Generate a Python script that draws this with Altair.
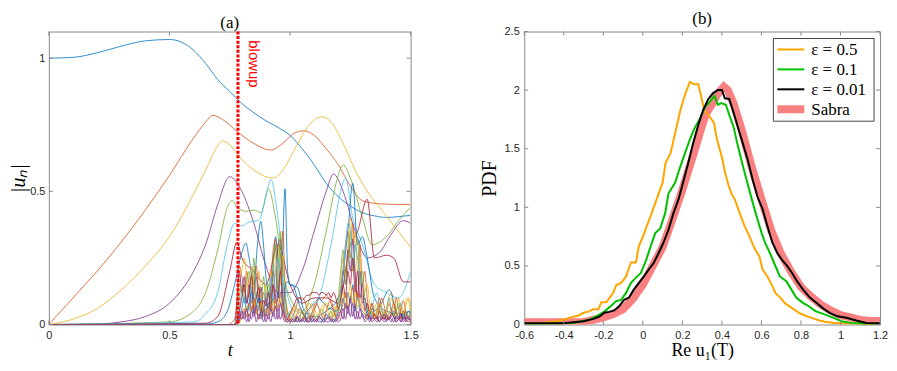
import altair as alt
import pandas as pd

# ---------------- Panel (a): |u_n| versus t ----------------
U01_T = [0, 0.1, 0.2, 0.3, 0.4, 0.5, 0.55, 0.6, 0.65, 0.7, 0.75, 0.8, 0.85, 0.9, 0.95, 1.0, 1.05, 1.1, 1.15, 1.2, 1.25, 1.3, 1.35, 1.4, 1.45, 1.5]
U01 = [1.0, 1.003, 1.02, 1.045, 1.065, 1.07, 1.06, 1.03, 0.98, 0.92, 0.875, 0.83, 0.795, 0.765, 0.74, 0.71, 0.66, 0.6, 0.53, 0.48, 0.445, 0.42, 0.408, 0.402, 0.405, 0.41]

U02_T = [0, 0.05, 0.1, 0.15, 0.2, 0.3, 0.4, 0.5, 0.6, 0.65, 0.68, 0.72, 0.78, 0.85, 0.92, 0.97, 1.02, 1.06, 1.1, 1.15, 1.2, 1.25, 1.3, 1.35, 1.4, 1.5]
U02 = [0, 0.05, 0.1, 0.15, 0.2, 0.31, 0.43, 0.56, 0.7, 0.76, 0.785, 0.77, 0.725, 0.68, 0.655, 0.68, 0.72, 0.727, 0.71, 0.66, 0.6, 0.52, 0.465, 0.455, 0.452, 0.45]

U03_T = [0, 0.1, 0.2, 0.3, 0.4, 0.5, 0.6, 0.65, 0.7, 0.72, 0.75, 0.8, 0.85, 0.9, 0.93, 0.97, 1.02, 1.08, 1.13, 1.17, 1.22, 1.27, 1.32, 1.38, 1.44, 1.5]
U03 = [0, 0.02, 0.06, 0.13, 0.22, 0.33, 0.49, 0.58, 0.67, 0.69, 0.675, 0.62, 0.58, 0.555, 0.55, 0.58, 0.66, 0.75, 0.78, 0.76, 0.68, 0.58, 0.5, 0.43, 0.36, 0.29]

U04_T = [0, 0.2, 0.3, 0.4, 0.5, 0.6, 0.65, 0.7, 0.75, 0.8, 0.85, 0.9, 0.95, 1.0, 1.05, 1.1, 1.15, 1.18, 1.22, 1.27, 1.32, 1.37, 1.42, 1.47, 1.5]
U04 = [0, 0.002, 0.01, 0.03, 0.08, 0.2, 0.3, 0.45, 0.555, 0.5, 0.38, 0.22, 0.12, 0.12, 0.2, 0.35, 0.5, 0.565, 0.5, 0.35, 0.25, 0.27, 0.34, 0.39, 0.38]

U05_T = [0, 0.5, 0.6, 0.65, 0.7, 0.74, 0.76, 0.78, 0.82, 0.85, 0.88, 0.91, 0.94, 0.97, 1.0, 1.05, 1.1, 1.15, 1.2, 1.22, 1.25, 1.3, 1.34, 1.4, 1.45, 1.5]
U05 = [0, 0.01, 0.05, 0.12, 0.28, 0.44, 0.465, 0.44, 0.425, 0.43, 0.42, 0.51, 0.4, 0.2, 0.1, 0.05, 0.15, 0.35, 0.56, 0.6, 0.55, 0.4, 0.3, 0.33, 0.39, 0.44]

U06_T = [0, 0.6, 0.65, 0.7, 0.74, 0.77, 0.8, 0.83, 0.87, 0.9, 0.92, 0.95, 0.98, 1.02, 1.08, 1.12, 1.17, 1.21, 1.23, 1.26, 1.3, 1.35, 1.4, 1.45, 1.5]
U06 = [0, 0.01, 0.04, 0.12, 0.3, 0.38, 0.37, 0.385, 0.39, 0.48, 0.545, 0.4, 0.15, 0.05, 0.04, 0.1, 0.3, 0.5, 0.55, 0.4, 0.3, 0.15, 0.12, 0.1, 0.2]

U07_T = [0, 0.65, 0.7, 0.75, 0.78, 0.8, 0.85, 0.9, 0.95, 1.0, 1.05, 1.1, 1.15, 1.2, 1.25, 1.28, 1.32, 1.35, 1.4, 1.43, 1.47, 1.5]
U07 = [0, 0.005, 0.03, 0.2, 0.31, 0.25, 0.2, 0.15, 0.3, 0.15, 0.08, 0.1, 0.1, 0.08, 0.3, 0.35, 0.47, 0.25, 0.26, 0.25, 0.16, 0.16]

U08_T = [0, 0.65, 0.7, 0.74, 0.77, 0.8, 0.817, 0.83, 0.85, 0.865, 0.879, 0.89, 0.9, 0.92, 0.94, 0.95, 0.965, 0.979, 0.99, 1.0, 1.03, 1.06, 1.1, 1.15, 1.2, 1.24, 1.26, 1.28, 1.3, 1.32, 1.35, 1.4, 1.45, 1.5]
U08 = [0, 0.002, 0.01, 0.05, 0.15, 0.27, 0.306, 0.25, 0.15, 0.3, 0.387, 0.3, 0.18, 0.1, 0.33, 0.25, 0.2, 0.51, 0.2, 0.15, 0.14, 0.05, 0.03, 0.05, 0.1, 0.35, 0.53, 0.3, 0.33, 0.25, 0.1, 0.05, 0.04, 0.05]

# high shells: fast fluctuations after the blowup time
NOISE_T = [0, 0.74,
           0.77, 0.78, 0.79, 0.80,
           0.81, 0.82, 0.83, 0.84, 0.85, 0.86, 0.87, 0.88, 0.89, 0.90,
           0.91, 0.92, 0.93, 0.94, 0.95, 0.96, 0.97, 0.98, 0.99, 1.00,
           1.01, 1.02, 1.03, 1.04, 1.05, 1.06, 1.07, 1.08, 1.09, 1.10,
           1.11, 1.12, 1.13, 1.14, 1.15, 1.16, 1.17, 1.18, 1.19, 1.20,
           1.21, 1.22, 1.23, 1.24, 1.25, 1.26, 1.27, 1.28, 1.29, 1.30,
           1.31, 1.32, 1.33, 1.34, 1.35, 1.36, 1.37, 1.38, 1.39, 1.40,
           1.41, 1.42, 1.43, 1.44, 1.45, 1.46, 1.47, 1.48, 1.49, 1.50]
U09 = [0, 0,
       0.02, 0.1, 0.22, 0.18,
       0.12, 0.2, 0.15, 0.08, 0.18, 0.22, 0.1, 0.05, 0.12, 0.08,
       0.05, 0.15, 0.28, 0.32, 0.1, 0.2, 0.35, 0.12, 0.04, 0.02,
       0.03, 0.05, 0.08, 0.1, 0.1, 0.09, 0.06, 0.03, 0.02, 0.05,
       0.08, 0.1, 0.09, 0.1, 0.11, 0.1, 0.08, 0.05, 0.03, 0.05,
       0.1, 0.2, 0.3, 0.35, 0.25, 0.38, 0.2, 0.1, 0.3, 0.15,
       0.2, 0.1, 0.05, 0.08, 0.03, 0.05, 0.1, 0.06, 0.02, 0.04,
       0.08, 0.05, 0.03, 0.1, 0.06, 0.02, 0.05, 0.04, 0.02, 0.03]
U10 = [0, 0,
       0.0, 0.05, 0.15, 0.2,
       0.25, 0.18, 0.1, 0.22, 0.15, 0.05, 0.2, 0.12, 0.06, 0.15,
       0.1, 0.2, 0.12, 0.25, 0.3, 0.15, 0.26, 0.08, 0.03, 0.04,
       0.06, 0.04, 0.02, 0.03, 0.05, 0.04, 0.02, 0.05, 0.08, 0.06,
       0.04, 0.02, 0.03, 0.06, 0.08, 0.07, 0.04, 0.02, 0.04, 0.08,
       0.15, 0.25, 0.18, 0.3, 0.4, 0.3, 0.35, 0.2, 0.25, 0.1,
       0.12, 0.15, 0.08, 0.04, 0.06, 0.08, 0.05, 0.02, 0.04, 0.06,
       0.1, 0.12, 0.08, 0.05, 0.1, 0.06, 0.02, 0.07, 0.1, 0.03]
U11 = [0, 0,
       0.0, 0.08, 0.2, 0.12,
       0.18, 0.08, 0.15, 0.05, 0.12, 0.18, 0.08, 0.14, 0.05, 0.1,
       0.06, 0.12, 0.2, 0.1, 0.3, 0.32, 0.1, 0.05, 0.02, 0.01,
       0.02, 0.01, 0.03, 0.01, 0.02, 0.04, 0.02, 0.01, 0.03, 0.02,
       0.01, 0.03, 0.02, 0.01, 0.04, 0.02, 0.03, 0.01, 0.02, 0.05,
       0.1, 0.2, 0.15, 0.28, 0.2, 0.32, 0.18, 0.1, 0.2, 0.08,
       0.1, 0.05, 0.02, 0.04, 0.02, 0.03, 0.01, 0.03, 0.02, 0.04,
       0.02, 0.03, 0.05, 0.02, 0.03, 0.01, 0.04, 0.02, 0.03, 0.02]
U12 = [0, 0,
       0.0, 0.03, 0.1, 0.15,
       0.1, 0.16, 0.2, 0.12, 0.25, 0.1, 0.15, 0.06, 0.18, 0.1,
       0.15, 0.08, 0.22, 0.3, 0.12, 0.35, 0.15, 0.1, 0.05, 0.03,
       0.02, 0.03, 0.01, 0.02, 0.05, 0.02, 0.01, 0.02, 0.04, 0.03,
       0.02, 0.04, 0.06, 0.04, 0.02, 0.03, 0.05, 0.03, 0.06, 0.1,
       0.2, 0.28, 0.15, 0.22, 0.35, 0.2, 0.28, 0.32, 0.15, 0.2,
       0.1, 0.06, 0.03, 0.05, 0.02, 0.04, 0.06, 0.03, 0.05, 0.02,
       0.04, 0.06, 0.03, 0.05, 0.08, 0.04, 0.02, 0.05, 0.03, 0.06]
U13 = [0, 0,
       0.0, 0.02, 0.06, 0.12,
       0.08, 0.1, 0.05, 0.14, 0.08, 0.12, 0.05, 0.1, 0.06, 0.12,
       0.08, 0.18, 0.1, 0.2, 0.25, 0.1, 0.18, 0.05, 0.03, 0.05,
       0.04, 0.02, 0.01, 0.03, 0.02, 0.01, 0.03, 0.02, 0.01, 0.02,
       0.03, 0.02, 0.01, 0.03, 0.02, 0.04, 0.02, 0.01, 0.03, 0.06,
       0.12, 0.2, 0.3, 0.38, 0.36, 0.22, 0.3, 0.25, 0.18, 0.1,
       0.08, 0.04, 0.02, 0.06, 0.1, 0.12, 0.08, 0.05, 0.03, 0.06,
       0.1, 0.06, 0.04, 0.02, 0.05, 0.08, 0.03, 0.05, 0.02, 0.04]
U14 = [0, 0,
       0.0, 0.01, 0.05, 0.1,
       0.15, 0.08, 0.12, 0.18, 0.06, 0.1, 0.14, 0.05, 0.09, 0.07,
       0.12, 0.06, 0.15, 0.08, 0.1, 0.2, 0.06, 0.03, 0.02, 0.04,
       0.06, 0.08, 0.1, 0.1, 0.09, 0.1, 0.11, 0.11, 0.12, 0.12,
       0.12, 0.11, 0.12, 0.12, 0.11, 0.12, 0.1, 0.12, 0.1, 0.06,
       0.08, 0.15, 0.1, 0.2, 0.15, 0.25, 0.12, 0.2, 0.1, 0.15,
       0.05, 0.08, 0.03, 0.02, 0.04, 0.02, 0.05, 0.03, 0.02, 0.03,
       0.02, 0.04, 0.03, 0.01, 0.02, 0.03, 0.05, 0.02, 0.01, 0.02]
U15 = [0, 0,
       0.0, 0.0, 0.03, 0.06,
       0.1, 0.05, 0.08, 0.12, 0.04, 0.07, 0.1, 0.03, 0.06, 0.04,
       0.08, 0.05, 0.1, 0.06, 0.12, 0.08, 0.05, 0.15, 0.16, 0.15,
       0.15, 0.13, 0.1, 0.07, 0.05, 0.03, 0.05, 0.06, 0.07, 0.08,
       0.09, 0.1, 0.09, 0.08, 0.07, 0.06, 0.06, 0.05, 0.05, 0.06,
       0.05, 0.1, 0.06, 0.12, 0.08, 0.15, 0.05, 0.1, 0.06, 0.04,
       0.03, 0.05, 0.04, 0.06, 0.05, 0.06, 0.07, 0.08, 0.1, 0.12,
       0.13, 0.12, 0.08, 0.05, 0.03, 0.04, 0.02, 0.03, 0.05, 0.04]
U16 = [0, 0,
       0.0, 0.0, 0.01, 0.04,
       0.06, 0.03, 0.08, 0.05, 0.1, 0.04, 0.07, 0.09, 0.03, 0.06,
       0.04, 0.08, 0.05, 0.1, 0.06, 0.12, 0.08, 0.03, 0.01, 0.02,
       0.01, 0.02, 0.04, 0.06, 0.05, 0.03, 0.01, 0.02, 0.04, 0.07,
       0.08, 0.06, 0.04, 0.02, 0.05, 0.08, 0.09, 0.06, 0.03, 0.02,
       0.05, 0.08, 0.12, 0.06, 0.1, 0.14, 0.07, 0.12, 0.08, 0.05,
       0.04, 0.02, 0.05, 0.08, 0.04, 0.02, 0.06, 0.1, 0.07, 0.03,
       0.02, 0.05, 0.08, 0.04, 0.02, 0.06, 0.09, 0.05, 0.02, 0.04]
U17 = [0, 0,
       0.0, 0.0, 0.01, 0.02,
       0.04, 0.07, 0.03, 0.06, 0.09, 0.05, 0.02, 0.08, 0.05, 0.03,
       0.06, 0.04, 0.09, 0.05, 0.08, 0.1, 0.04, 0.02, 0.01, 0.03,
       0.05, 0.07, 0.05, 0.03, 0.02, 0.04, 0.06, 0.08, 0.06, 0.04,
       0.02, 0.04, 0.06, 0.08, 0.07, 0.04, 0.02, 0.04, 0.07, 0.05,
       0.08, 0.12, 0.06, 0.1, 0.15, 0.08, 0.12, 0.06, 0.1, 0.07,
       0.05, 0.03, 0.06, 0.04, 0.02, 0.05, 0.08, 0.06, 0.03, 0.05,
       0.08, 0.1, 0.06, 0.03, 0.05, 0.07, 0.04, 0.08, 0.1, 0.06]
U18 = [0, 0,
       0.0, 0.0, 0.02, 0.05,
       0.02, 0.06, 0.01, 0.05, 0.03, 0.07, 0.02, 0.05, 0.01, 0.04,
       0.02, 0.06, 0.03, 0.07, 0.02, 0.08, 0.03, 0.01, 0.02, 0.01,
       0.02, 0.01, 0.03, 0.01, 0.02, 0.01, 0.02, 0.03, 0.01, 0.02,
       0.01, 0.03, 0.02, 0.01, 0.02, 0.03, 0.01, 0.02, 0.01, 0.03,
       0.05, 0.02, 0.08, 0.04, 0.1, 0.03, 0.07, 0.02, 0.06, 0.03,
       0.02, 0.04, 0.01, 0.03, 0.02, 0.01, 0.03, 0.02, 0.04, 0.01,
       0.03, 0.02, 0.01, 0.03, 0.02, 0.04, 0.01, 0.02, 0.03, 0.01]
U19 = [0, 0,
       0.0, 0.01, 0.04, 0.02,
       0.05, 0.01, 0.04, 0.02, 0.06, 0.01, 0.04, 0.02, 0.05, 0.01,
       0.04, 0.01, 0.05, 0.02, 0.06, 0.02, 0.05, 0.02, 0.01, 0.02,
       0.01, 0.02, 0.01, 0.02, 0.01, 0.03, 0.01, 0.01, 0.02, 0.01,
       0.02, 0.01, 0.01, 0.02, 0.01, 0.01, 0.02, 0.01, 0.02, 0.01,
       0.02, 0.06, 0.02, 0.07, 0.03, 0.08, 0.02, 0.05, 0.02, 0.04,
       0.01, 0.02, 0.03, 0.01, 0.02, 0.03, 0.01, 0.02, 0.01, 0.02,
       0.02, 0.01, 0.03, 0.01, 0.02, 0.01, 0.03, 0.01, 0.02, 0.02]

SHELL_NAMES = ["u01", "u02", "u03", "u04", "u05", "u06", "u07", "u08", "u09", "u10",
               "u11", "u12", "u13", "u14", "u15", "u16", "u17", "u18", "u19"]
SHELL_COLORS = ["#0072BD", "#D95319", "#EDB120", "#7E2F8E", "#77AC30", "#4DBEEE", "#A2142F",
                "#0072BD", "#D95319", "#EDB120", "#7E2F8E", "#77AC30", "#4DBEEE", "#A2142F",
                "#0072BD", "#D95319", "#EDB120", "#7E2F8E", "#7E2F8E"]

BLOWUP_T = [0.784]
BLOWUP_LABEL = ["blowup"]
BLOWUP_LABEL_T = [0.851]
BLOWUP_LABEL_U = [1.067]

A_X_TICKS = [0, 0.5, 1, 1.5]
A_Y_TICKS = [0, 0.5, 1]

# ---------------- Panel (b): PDF of Re u1(T) ----------------
E05_X = [-0.6, -0.5, -0.45, -0.4, -0.375, -0.325, -0.3, -0.275, -0.25, -0.225, -0.21, -0.185, -0.15, -0.135, -0.11, -0.085,
         -0.06, -0.035, -0.02, 0.005, 0.02, 0.045, 0.07, 0.1, 0.115, 0.14, 0.163, 0.19, 0.213, 0.238, 0.26, 0.28, 0.295,
         0.31, 0.335, 0.36, 0.375, 0.4, 0.417, 0.433, 0.45, 0.465, 0.49, 0.515, 0.54, 0.565, 0.59, 0.605, 0.63, 0.655,
         0.67, 0.695, 0.72, 0.755, 0.79, 0.82, 0.855, 0.89, 0.92, 0.97, 1.02, 1.09, 1.2]
E05_Y = [0.005, 0.015, 0.025, 0.04, 0.057, 0.077, 0.1, 0.11, 0.13, 0.13, 0.19, 0.19, 0.27, 0.335, 0.355, 0.41,
         0.53, 0.53, 0.67, 0.77, 0.84, 0.95, 1.07, 1.21, 1.38, 1.46, 1.63, 1.83, 1.96, 2.07, 2.05, 2.05, 1.95,
         1.83, 1.78, 1.72, 1.58, 1.43, 1.29, 1.19, 1.11, 1.07, 0.95, 0.84, 0.75, 0.65, 0.58, 0.47, 0.41, 0.33,
         0.27, 0.23, 0.18, 0.14, 0.1, 0.077, 0.057, 0.037, 0.023, 0.014, 0.009, 0.006, 0.0]

E01_X = [-0.6, -0.5, -0.4, -0.35, -0.27, -0.22, -0.195, -0.16, -0.135, -0.11, -0.085, -0.06, -0.035, -0.01, 0.015, 0.04,
         0.063, 0.088, 0.113, 0.13, 0.163, 0.19, 0.213, 0.238, 0.263, 0.29, 0.313, 0.338, 0.363, 0.38, 0.396, 0.42,
         0.437, 0.46, 0.477, 0.502, 0.527, 0.551, 0.576, 0.601, 0.618, 0.643, 0.668, 0.693, 0.726, 0.751, 0.776,
         0.81, 0.84, 0.873, 0.923, 0.965, 1.005, 1.055, 1.12, 1.2]
E01_Y = [0.005, 0.007, 0.01, 0.015, 0.04, 0.085, 0.11, 0.16, 0.2, 0.21, 0.27, 0.355, 0.4, 0.44, 0.54, 0.67,
         0.78, 0.82, 0.95, 1.12, 1.21, 1.35, 1.46, 1.58, 1.68, 1.76, 1.85, 1.9, 1.95, 1.875, 1.89, 1.875,
         1.79, 1.68, 1.55, 1.38, 1.22, 1.07, 0.92, 0.78, 0.7, 0.61, 0.51, 0.41, 0.37, 0.3, 0.23,
         0.185, 0.156, 0.114, 0.085, 0.057, 0.028, 0.014, 0.006, 0.005]

E001_X = [-0.6, -0.5, -0.4, -0.385, -0.35, -0.3, -0.25, -0.218, -0.195, -0.17, -0.145, -0.12, -0.095, -0.07, -0.045,
          -0.02, 0.005, 0.03, 0.055, 0.08, 0.105, 0.13, 0.155, 0.18, 0.205, 0.23, 0.255, 0.28, 0.305, 0.33, 0.355,
          0.38, 0.4, 0.415, 0.437, 0.455, 0.48, 0.505, 0.53, 0.555, 0.58, 0.605, 0.63, 0.655, 0.68, 0.705, 0.73,
          0.755, 0.78, 0.81, 0.845, 0.878, 0.91, 0.945, 0.985, 1.03, 1.08, 1.13, 1.2]
E001_Y = [0.01, 0.01, 0.01, 0.014, 0.02, 0.028, 0.048, 0.07, 0.1, 0.108, 0.12, 0.156, 0.21, 0.23, 0.3,
          0.355, 0.41, 0.47, 0.525, 0.61, 0.7, 0.81, 0.95, 1.065, 1.22, 1.38, 1.55, 1.7, 1.83, 1.92, 1.975,
          2.0, 2.0, 1.93, 1.925, 1.83, 1.69, 1.55, 1.41, 1.24, 1.09, 0.99, 0.84, 0.7, 0.61, 0.55, 0.5,
          0.44, 0.37, 0.3, 0.23, 0.185, 0.14, 0.1, 0.07, 0.057, 0.034, 0.014, 0.01]

SABRA_X = [-0.6, -0.4, -0.3, -0.2, -0.15, -0.1, -0.05, 0.0, 0.05, 0.1, 0.15, 0.2, 0.25, 0.3, 0.32, 0.35, 0.38, 0.41,
           0.43, 0.46, 0.5, 0.55, 0.6, 0.65, 0.7, 0.75, 0.8, 0.85, 0.9, 0.95, 1.0, 1.05, 1.1, 1.15, 1.2]
SABRA_Y = [0.02, 0.02, 0.02, 0.06, 0.09, 0.13, 0.22, 0.34, 0.5, 0.66, 0.9, 1.15, 1.42, 1.7, 1.8, 1.88, 1.97, 2.03,
           2.0, 1.88, 1.66, 1.35, 1.07, 0.8, 0.6, 0.45, 0.32, 0.24, 0.17, 0.12, 0.08, 0.06, 0.04, 0.03, 0.03]

B_NAMES = ["ε = 0.5", "ε = 0.1", "ε = 0.01", "Sabra"]
B_COLORS = ["#FFA500", "#00C000", "#000000", "#F88080"]
B_WIDTHS = [2, 2, 2, 8]
B_X_TICKS = [-0.6, -0.4, -0.2, 0, 0.2, 0.4, 0.6, 0.8, 1, 1.2]
B_Y_TICKS = [0, 0.5, 1, 1.5, 2, 2.5]

# ---------------- build tables ----------------
shell_lists = [
    (U01_T, U01), (U02_T, U02), (U03_T, U03), (U04_T, U04), (U05_T, U05), (U06_T, U06), (U07_T, U07),
    (U08_T, U08), (NOISE_T, U09), (NOISE_T, U10), (NOISE_T, U11), (NOISE_T, U12), (NOISE_T, U13),
    (NOISE_T, U14), (NOISE_T, U15), (NOISE_T, U16), (NOISE_T, U17), (NOISE_T, U18), (NOISE_T, U19),
]
rows = []
for name, (ts, us) in zip(SHELL_NAMES, shell_lists):
    for t, u in zip(ts, us):
        rows.append({"shell": name, "t": t, "u": u})
shells_df = pd.DataFrame(rows)

pdf_rows = []
for name, xs, ys in [("ε = 0.5", E05_X, E05_Y), ("ε = 0.1", E01_X, E01_Y),
                     ("ε = 0.01", E001_X, E001_Y), ("Sabra", SABRA_X, SABRA_Y)]:
    for x, y in zip(xs, ys):
        pdf_rows.append({"series": name, "x": x, "y": y})
pdf_df = pd.DataFrame(pdf_rows)

W_A, H_A = 363, 294
W_B, H_B = 357, 294
TICK = 4
BOX = "#8a8a8a"
one = pd.DataFrame({"k": [0]})

ax_a_x = alt.Axis(values=A_X_TICKS, labelExpr="'' + datum.value", title="t", titleFontStyle="italic",
                  titleFontSize=18, labelPadding=5, titlePadding=1, labelFlush=False)
ax_a_y = alt.Axis(values=A_Y_TICKS, labelExpr="'' + datum.value", title="|uₙ|", titleFontStyle="italic",
                  titleFontSize=20, labelPadding=4, titlePadding=1, labelFlush=False)
sc_a_x = alt.Scale(domain=[0, 1.5], nice=False, zero=False)
sc_a_y = alt.Scale(domain=[0, 1.1], nice=False, zero=False)

lines_a = alt.Chart(shells_df).mark_line(strokeWidth=0.8, interpolate="monotone", clip=True).encode(
    x=alt.X("t:Q", scale=sc_a_x, axis=ax_a_x),
    y=alt.Y("u:Q", scale=sc_a_y, axis=ax_a_y),
    stroke=alt.Stroke("shell:N", scale=alt.Scale(domain=SHELL_NAMES, range=SHELL_COLORS), legend=None),
    detail="shell:N",
)

blow_df = pd.DataFrame({"t": BLOWUP_T})
blow_rule = alt.Chart(blow_df).mark_rule(color="#FF0000", strokeWidth=3, strokeDash=[3, 1.6]).encode(
    x=alt.X("t:Q", scale=sc_a_x, axis=ax_a_x),
    y=alt.value(0), y2=alt.value(H_A),
)
blow_txt_df = pd.DataFrame({"t": BLOWUP_LABEL_T, "u": BLOWUP_LABEL_U, "label": BLOWUP_LABEL})
blow_text = alt.Chart(blow_txt_df).mark_text(angle=90, align="left", baseline="middle", color="#FF0000",
                                             font="Liberation Sans", fontSize=15).encode(
    x=alt.X("t:Q", scale=sc_a_x, axis=ax_a_x),
    y=alt.Y("u:Q", scale=sc_a_y, axis=ax_a_y),
    text="label:N",
)

ax_tick_df = pd.DataFrame({"t": A_X_TICKS})
ay_tick_df = pd.DataFrame({"u": A_Y_TICKS})
a_ticks = [
    alt.Chart(ax_tick_df).mark_rule(color=BOX).encode(x=alt.X("t:Q", scale=sc_a_x, axis=ax_a_x),
                                                      y=alt.value(H_A), y2=alt.value(H_A - TICK)),
    alt.Chart(ax_tick_df).mark_rule(color=BOX).encode(x=alt.X("t:Q", scale=sc_a_x, axis=ax_a_x),
                                                      y=alt.value(0), y2=alt.value(TICK)),
    alt.Chart(ay_tick_df).mark_rule(color=BOX).encode(y=alt.Y("u:Q", scale=sc_a_y, axis=ax_a_y),
                                                      x=alt.value(0), x2=alt.value(TICK)),
    alt.Chart(ay_tick_df).mark_rule(color=BOX).encode(y=alt.Y("u:Q", scale=sc_a_y, axis=ax_a_y),
                                                      x=alt.value(W_A - TICK), x2=alt.value(W_A)),
]

panel_a = alt.layer(lines_a, blow_rule, blow_text, *a_ticks).properties(
    width=W_A, height=H_A,
    title=alt.TitleParams("(a)", font="Liberation Serif", fontSize=17, fontWeight="normal", offset=-2,
                          color="black"),
)

# ---------------- panel (b) ----------------
ax_b_x = alt.Axis(values=B_X_TICKS, labelExpr="'' + datum.value", title="Re u₁(T)",
                  titleFontSize=18, labelPadding=5, titlePadding=1, labelFlush=False)
ax_b_y = alt.Axis(values=B_Y_TICKS, labelExpr="'' + datum.value", title="PDF",
                  titleFontSize=20, labelPadding=5, titlePadding=5, labelFlush=False)
sc_b_x = alt.Scale(domain=[-0.6, 1.2], nice=False, zero=False)
sc_b_y = alt.Scale(domain=[0, 2.5], nice=False, zero=False)
color_b = alt.Color("series:N", scale=alt.Scale(domain=B_NAMES, range=B_COLORS), legend=None)
width_b = alt.StrokeWidth("series:N", scale=alt.Scale(type="ordinal", domain=B_NAMES, range=B_WIDTHS),
                          legend=None)

sabra_line = alt.Chart(pdf_df).transform_filter(alt.datum.series == "Sabra").mark_line(clip=True).encode(
    x=alt.X("x:Q", scale=sc_b_x, axis=ax_b_x),
    y=alt.Y("y:Q", scale=sc_b_y, axis=ax_b_y),
    color=color_b, strokeWidth=width_b,
)
eps_lines = alt.Chart(pdf_df).transform_filter(alt.datum.series != "Sabra").mark_line(clip=True).encode(
    x=alt.X("x:Q", scale=sc_b_x, axis=ax_b_x),
    y=alt.Y("y:Q", scale=sc_b_y, axis=ax_b_y),
    color=color_b, strokeWidth=width_b,
)

bx_tick_df = pd.DataFrame({"x": B_X_TICKS})
by_tick_df = pd.DataFrame({"y": B_Y_TICKS})
b_ticks = [
    alt.Chart(bx_tick_df).mark_rule(color=BOX).encode(x=alt.X("x:Q", scale=sc_b_x, axis=ax_b_x),
                                                      y=alt.value(H_B), y2=alt.value(H_B - TICK)),
    alt.Chart(bx_tick_df).mark_rule(color=BOX).encode(x=alt.X("x:Q", scale=sc_b_x, axis=ax_b_x),
                                                      y=alt.value(0), y2=alt.value(TICK)),
    alt.Chart(by_tick_df).mark_rule(color=BOX).encode(y=alt.Y("y:Q", scale=sc_b_y, axis=ax_b_y),
                                                      x=alt.value(0), x2=alt.value(TICK)),
    alt.Chart(by_tick_df).mark_rule(color=BOX).encode(y=alt.Y("y:Q", scale=sc_b_y, axis=ax_b_y),
                                                      x=alt.value(W_B - TICK), x2=alt.value(W_B)),
]

# legend box (top-right, inside the plot area)
LEG_R = W_B - 6
LEG_L = LEG_R - 101
LEG_T, LEG_B = 7, 90
ROW_H = 20
legend_layers = [
    alt.Chart(one).mark_rect(fill="white", stroke="#444444", strokeWidth=1).encode(
        x=alt.value(LEG_L), x2=alt.value(LEG_R), y=alt.value(LEG_T), y2=alt.value(LEG_B)),
]
for i, (name, col, wd) in enumerate(zip(B_NAMES, B_COLORS, B_WIDTHS)):
    yc = LEG_T + 11 + i * ROW_H
    legend_layers.append(alt.Chart(one).mark_rule(color=col, strokeWidth=wd).encode(
        x=alt.value(LEG_L + 4), x2=alt.value(LEG_L + 31), y=alt.value(yc)))
    legend_layers.append(alt.Chart(one).mark_text(align="left", baseline="middle", font="Liberation Serif",
                                                  fontSize=17, color="black").encode(
        x=alt.value(LEG_L + 38), y=alt.value(yc + 1), text=alt.value(name)))

panel_b = alt.layer(sabra_line, eps_lines, *b_ticks, *legend_layers).properties(
    width=W_B, height=H_B,
    title=alt.TitleParams("(b)", font="Liberation Serif", fontSize=17, fontWeight="normal", offset=-2,
                          color="black"),
)

chart = alt.hconcat(panel_a, panel_b, spacing=114, bounds="flush").resolve_scale(
    color="independent", stroke="independent", strokeWidth="independent",
).properties(
    padding=0,
).configure_view(
    stroke=BOX, strokeWidth=1,
).configure_axis(
    domain=False, ticks=False, grid=False,
    labelFont="Liberation Sans", labelFontSize=11, labelColor="#262626",
    titleFont="Liberation Serif", titleFontWeight="normal", titleColor="black",
)

chart.save("out.html", embed_options={"renderer": "svg", "actions": False})
